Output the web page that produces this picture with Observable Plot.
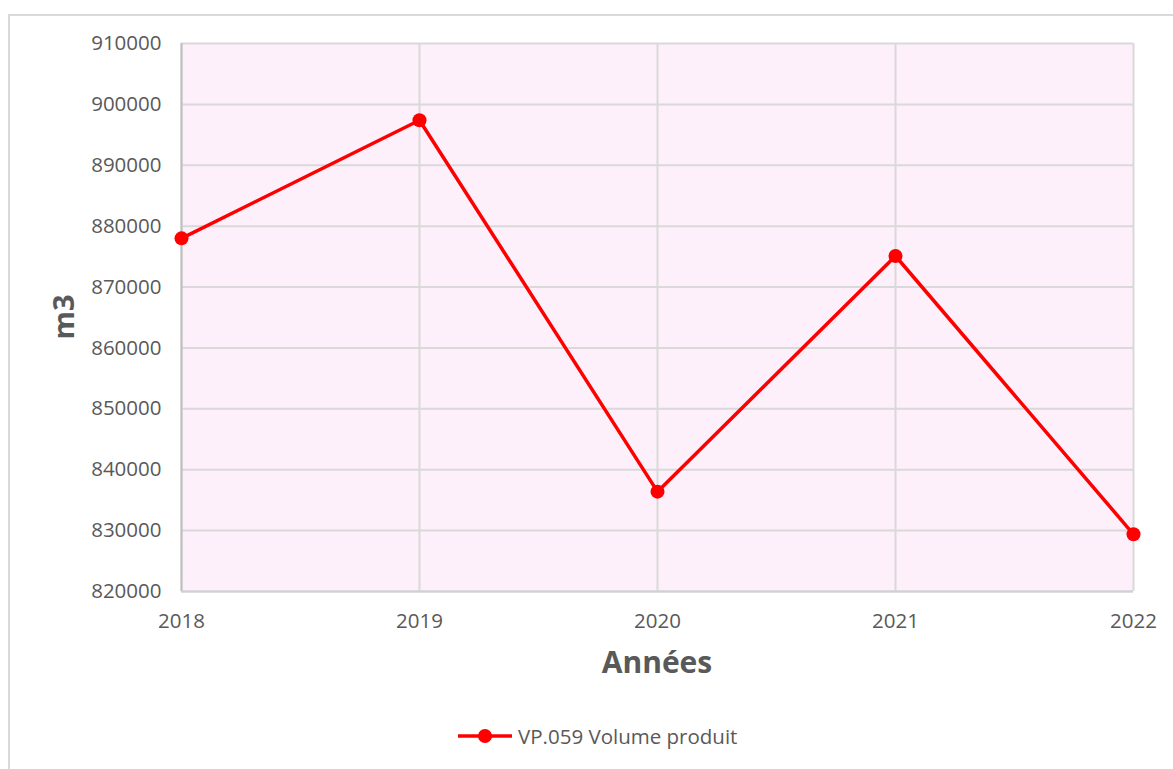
<!DOCTYPE html>
<html>
<head>
<meta charset="utf-8">
<script src="https://cdn.jsdelivr.net/npm/d3@7"></script>
<script src="https://cdn.jsdelivr.net/npm/@observablehq/plot@0.6"></script>
<style>
  html, body { margin: 0; padding: 0; background: #fff; width: 1173px; height: 769px; overflow: hidden; }
  #wrap { position: relative; width: 1173px; height: 769px; font-family: "Open Sans", "Noto Sans", sans-serif; }
  #border { position: absolute; left: 8px; top: 14px; width: 1200px; height: 800px; border: 2px solid #d9d9d9; box-sizing: border-box; }
  #chart { position: absolute; left: 0; top: 0; }
  .ytitle { position: absolute; left: 62px; top: 317px; transform: translate(-50%, -50%) rotate(-90deg); font-size: 29px; font-weight: bold; color: #595959; }
  .xtitle { position: absolute; left: 657px; top: 661px; transform: translate(-50%, -50%); font-size: 30px; font-weight: bold; color: #595959; }
  .legend { position: absolute; left: 458px; top: 722px; display: flex; align-items: center; font-size: 20.5px; color: #595959; }
  .legend svg { margin-right: 6px; }
</style>
</head>
<body>
<div id="wrap">
  <div id="border"></div>
  <div id="chart"></div>
  <div class="ytitle">m3</div>
  <div class="xtitle">Années</div>
  <div class="legend"><svg width="54" height="24"><line x1="0" y1="12" x2="54" y2="12" stroke="#ff0000" stroke-width="3.5"/><circle cx="27" cy="12" r="7" fill="#ff0000"/></svg><span>VP.059 Volume produit</span></div>
</div>
<script>
const years = [2018, 2019, 2020, 2021, 2022];
const volumes = [878000, 897400, 836400, 875100, 829400];
const yTicks = [820000, 830000, 840000, 850000, 860000, 870000, 880000, 890000, 900000, 910000];

const data = years.map((y, i) => ({year: y, value: volumes[i]}));

const chart = Plot.plot({
  width: 1173,
  height: 769,
  marginLeft: 181,
  marginRight: 40,
  marginTop: 43,
  marginBottom: 178,
  style: {background: "transparent", fontFamily: "'Open Sans', 'Noto Sans', sans-serif", fontSize: "20.5px", color: "#595959"},
  x: {domain: [2018, 2022], ticks: years, tickFormat: d => String(d), label: null, tickSize: 0, tickPadding: 22},
  y: {domain: [820000, 910000], ticks: yTicks, tickFormat: d => String(d), label: null, tickSize: 0, tickPadding: 20},
  marks: [
    Plot.rect([{}], {x1: 2018, x2: 2022, y1: 820000, y2: 910000, fill: "#fdf0fa"}),
    Plot.gridY(yTicks, {stroke: "#d9d9d9", strokeOpacity: 1, strokeWidth: 2}),
    Plot.gridX(years, {stroke: "#d9d9d9", strokeOpacity: 1, strokeWidth: 2}),
    Plot.ruleX([2018], {stroke: "#bfbfbf", strokeWidth: 2}),
    Plot.ruleY([820000], {stroke: "#d0d0d0", strokeWidth: 2}),
    Plot.axisX({ticks: years, tickFormat: d => String(d), tickSize: 0, tickPadding: 22, fill: "#595959", fontSize: 20.5}),
    Plot.axisY({ticks: yTicks, tickFormat: d => String(d), tickSize: 0, tickPadding: 20, fill: "#595959", fontSize: 20.5}),
    Plot.line(data, {x: "year", y: "value", stroke: "#ff0000", strokeWidth: 3.5}),
    Plot.dot(data, {x: "year", y: "value", fill: "#ff0000", r: 7})
  ]
});
document.getElementById("chart").appendChild(chart);
</script>
</body>
</html>
